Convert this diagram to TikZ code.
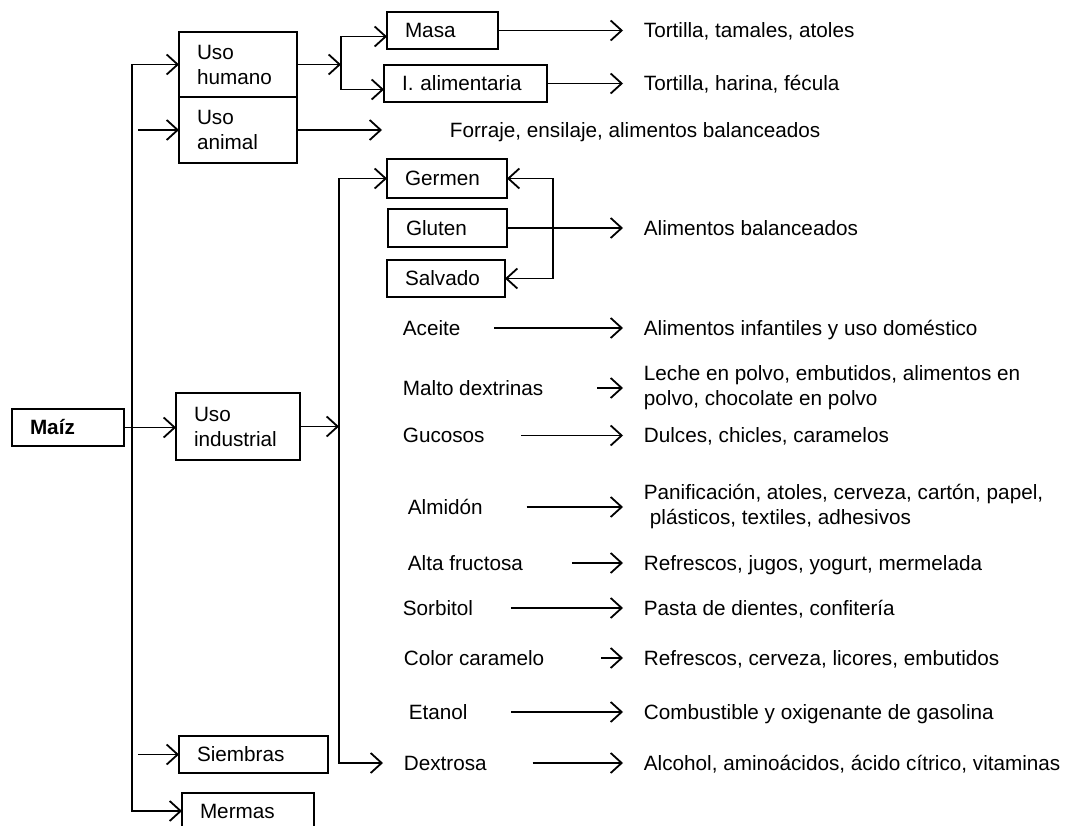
\documentclass[tikz,border=0pt]{standalone}
\usepackage{fontspec}
\setmainfont{Liberation Sans}
\usetikzlibrary{positioning}
\usetikzlibrary{arrows.meta}
\tikzset{>={Straight Barb[length=11pt,width=20pt]}}
\tikzset{caja/.style={draw, anchor=north west, inner xsep=18pt, inner ysep=0pt, outer sep=0pt, align=left, text width=#1}}
\tikzset{etiq/.style={anchor=west, inner sep=0pt, text height=15.5pt, text depth=1pt}}
\tikzset{etiqdos/.style={anchor=west, inner sep=0pt, align=left}}

\begin{document}
\begin{tikzpicture}[x=1pt, y=-1pt, line width=1.8pt, font=\fontsize{20.7}{25}\selectfont]
\clip (0,0) rectangle (1074,826);

% boxes on the left
\node[caja=76pt, minimum height=37] (maiz) at (12,409) {\bfseries Maíz};
\node[caja=82pt, minimum height=65] (humano) at (179,32) {Uso\\humano};
\node[caja=82pt, minimum height=66, below=0pt of humano] (animal) {Uso\\animal};
\node[caja=88pt, minimum height=67] (industrial) at (176,393) {Uso\\industrial};
\node[caja=113pt, minimum height=37] (siembras) at (179,736) {Siembras};
\node[caja=96pt, minimum height=36] (mermas) at (182,793) {Mermas};

% boxes in the middle
\node[caja=75pt, minimum height=37] (masa) at (387,12) {Masa};
\node[caja=127pt, minimum height=37] (alim) at (384,65) {I. alimentaria};
\node[caja=84pt, minimum height=39] (germen) at (387,159) {Germen};
\node[caja=83pt, minimum height=38] (gluten) at (388,209) {Gluten};
\node[caja=82pt, minimum height=37] (salvado) at (387,260) {Salvado};

\coordinate (tronco) at (132,0);
\coordinate (barra) at (341,0);
\coordinate (eje) at (339,0);
\coordinate (llave) at (553,0);

% products of the industry
\node[etiq] (aceite) at (402,328) {Aceite};
\node[etiq] (malto) at (402,388) {Malto dextrinas};
\node[etiq] (gucosos) at (402,435.5) {Gucosos};
\node[etiq] (almidon) at (407,507) {Almidón};
\node[etiq] (alta) at (407,563) {Alta fructosa};
\node[etiq] (sorbitol) at (402,608) {Sorbitol};
\node[etiq] (color) at (403,658) {Color caramelo};
\node[etiq] (etanol) at (408,712) {Etanol};
\node[etiq] (dextrosa) at (403,763) {Dextrosa};

% uses
\node[etiq] (usomasa) at (643,30.5) {Tortilla, tamales, atoles};
\node[etiq] (usoalim) at (643,83.5) {Tortilla, harina, fécula};
\node[etiq] (forraje) at (449,130) {Forraje, ensilaje, alimentos balanceados};
\node[etiq] (balanc) at (643,228) {Alimentos balanceados};
\node[etiq] (usoaceite) at (643,328) {Alimentos infantiles y uso doméstico};
\node[etiqdos] (usomalto) at (643,388) {Leche en polvo, embutidos, alimentos en\\polvo, chocolate en polvo};
\node[etiq] (usogucosos) at (643,435.5) {Dulces, chicles, caramelos};
\node[etiqdos] (usoalmidon) at (643,507) {Panificación, atoles, cerveza, cartón, papel,\\\hspace{6pt}plásticos, textiles, adhesivos};
\node[etiq] (usoalta) at (643,563) {Refrescos, jugos, yogurt, mermelada};
\node[etiq] (usosorbitol) at (643,608) {Pasta de dientes, confitería};
\node[etiq] (usocolor) at (643,658) {Refrescos, cerveza, licores, embutidos};
\node[etiq] (usoetanol) at (643,712) {Combustible y oxigenante de gasolina};
\node[etiq] (usodextrosa) at (643,763) {Alcohol, aminoácidos, ácido cítrico, vitaminas};

% main branch
\draw[<->] (humano.west) -- (humano.west -| tronco) -- (mermas.west -| tronco) -- (mermas.west);
\draw[->] ([xshift=6pt]animal.west -| tronco) -- (animal.west);
\draw[->] ([xshift=6pt]siembras.west -| tronco) -- (siembras.west);
\draw[->] (maiz.east) -- (maiz.east -| industrial.west);

% human use
\draw[->] (humano.east) -- (humano.east -| barra);
\draw[<->] ([yshift=-6pt]masa.west) -- ([yshift=-6pt]masa.west -| barra) -- ([yshift=-6pt]alim.west -| barra) -- ([yshift=-6pt]alim.west);
\draw[->] (masa.east) -- ([xshift=-20pt]usomasa.west);
\draw[->] (alim.east) -- ([xshift=-20pt]usoalim.west);
\draw[->] (animal.east) -- ([xshift=-67pt]forraje.west);

% industrial use
\draw[->] (industrial.east) -- (industrial.east -| eje);
\draw[<->] (germen.west) -- (germen.west -| eje) -- (eje |- dextrosa.west) -- ([xshift=-20pt]dextrosa.west);
\draw[<->] (germen.east) -- (germen.east -| llave) -- (llave |- salvado.east) -- (salvado.east);
\draw[->] (gluten.east) -- ([xshift=-20pt]balanc.west);
\draw[->] ([xshift=33pt]aceite.east) -- ([xshift=-20pt]usoaceite.west);
\draw[->] ([xshift=53pt]malto.east) -- ([xshift=-20pt]usomalto.west);
\draw[->] ([xshift=36pt]gucosos.east) -- ([xshift=-20pt]usogucosos.west);
\draw[->] ([xshift=43pt]almidon.east) -- ([xshift=-20pt]usoalmidon.west);
\draw[->] ([xshift=48pt]alta.east) -- ([xshift=-20pt]usoalta.west);
\draw[->] ([xshift=37pt]sorbitol.east) -- ([xshift=-20pt]usosorbitol.west);
\draw[->] ([xshift=56pt]color.east) -- ([xshift=-20pt]usocolor.west);
\draw[->] ([xshift=43pt]etanol.east) -- ([xshift=-20pt]usoetanol.west);
\draw[->] ([xshift=45pt]dextrosa.east) -- ([xshift=-20pt]usodextrosa.west);
\end{tikzpicture}
\end{document}
